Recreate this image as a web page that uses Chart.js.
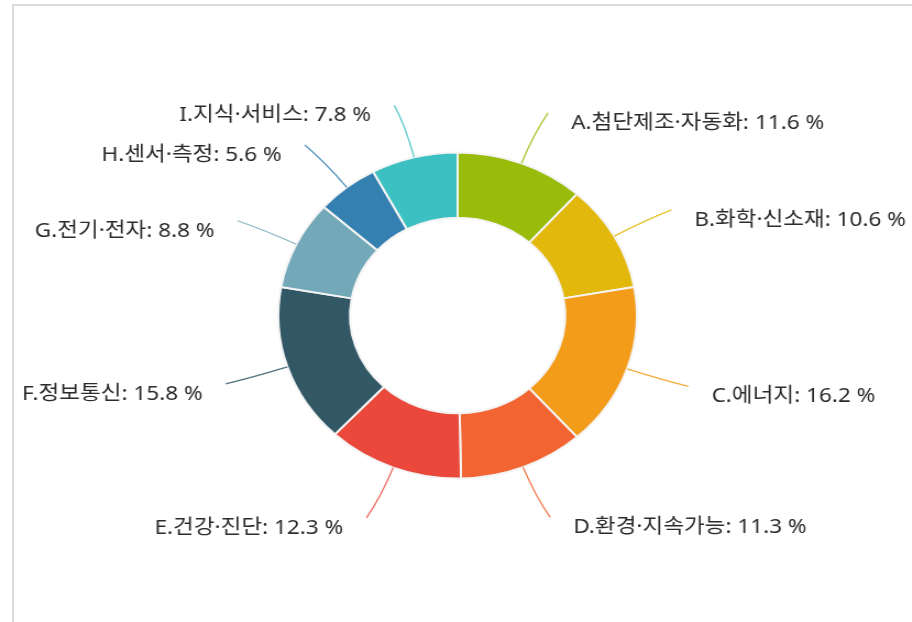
<!DOCTYPE html>
<html>
<head>
<meta charset="utf-8">
<script src="https://cdn.jsdelivr.net/npm/chart.js@4.4.1/dist/chart.umd.min.js"></script>
<style>
  html, body { margin: 0; padding: 0; background: #fff; }
  body { width: 912px; height: 622px; overflow: hidden; position: relative; }
  .frame { position: absolute; left: 12px; top: 4px; right: -10px; bottom: -10px;
           border-top: 2px solid #dcdcdc; border-left: 2px solid #dcdcdc; }
  .wrap { position: absolute; left: 0; top: 0; width: 829px; height: 622px;
          transform: scaleX(1.1); transform-origin: 0 0; }
</style>
</head>
<body>
<div class="frame"></div>
<div class="wrap"><canvas id="donut"></canvas></div>
<script>
// 산업 분야별 비중 (%)
const categories = ["A.첨단제조·자동화", "B.화학·신소재", "C.에너지", "D.환경·지속가능", "E.건강·진단",
                    "F.정보통신", "G.전기·전자", "H.센서·측정", "I.지식·서비스"];
const shares = [11.6, 10.6, 16.2, 11.3, 12.3, 15.8, 8.8, 5.6, 7.8];
const colors = ["#99bb09", "#e1b80b", "#f39c1a", "#f26532", "#e9483a",
                "#325866", "#72a8b8", "#3481b1", "#3dc0c1"];

// 라벨 + 곡선 연결선
const labelLines = {
  id: "labelLines",
  afterDatasetsDraw(chart) {
    const ctx = chart.ctx;
    const meta = chart.getDatasetMeta(0);
    ctx.save();
    ctx.font = "20.5px 'Noto Sans', 'Noto Sans CJK KR', sans-serif";
    ctx.textBaseline = "middle";
    meta.data.forEach((arc, i) => {
      const p = arc.getProps(["x", "y", "outerRadius", "startAngle", "endAngle"], true);
      const mid = (p.startAngle + p.endAngle) / 2;
      const cos = Math.cos(mid), sin = Math.sin(mid);
      const side = cos >= 0 ? 1 : -1;
      const r = p.outerRadius;
      const x0 = p.x + cos * r, y0 = p.y + sin * r;
      const x1 = p.x + cos * r * 1.2, y1 = p.y + sin * r * 1.2;
      const x2 = p.x + cos * r * 1.33 + side * 5, y2 = p.y + sin * r * 1.33;

      ctx.strokeStyle = colors[i];
      ctx.globalAlpha = 0.85;
      ctx.lineWidth = 1.3;
      ctx.beginPath();
      ctx.moveTo(x0, y0);
      ctx.quadraticCurveTo(x1, y1, x2, y2);
      ctx.stroke();
      ctx.globalAlpha = 1;

      ctx.fillStyle = "#2b2b2b";
      ctx.textAlign = side > 0 ? "left" : "right";
      ctx.fillText(categories[i] + ": " + shares[i] + " %", x2 + side * 21, y2 + 10);
    });
    ctx.restore();
  }
};

new Chart(document.getElementById("donut"), {
  type: "doughnut",
  data: {
    labels: categories,
    datasets: [{
      data: shares,
      backgroundColor: colors,
      borderColor: "#f4f4f4",
      borderWidth: 2
    }]
  },
  options: {
    responsive: true,
    maintainAspectRatio: false,
    animation: false,
    cutout: "60%",
    layout: { padding: { left: 252, right: 249, top: 151, bottom: 142 } },
    plugins: { legend: { display: false }, tooltip: { enabled: false } }
  },
  plugins: [labelLines]
});
</script>
</body>
</html>
